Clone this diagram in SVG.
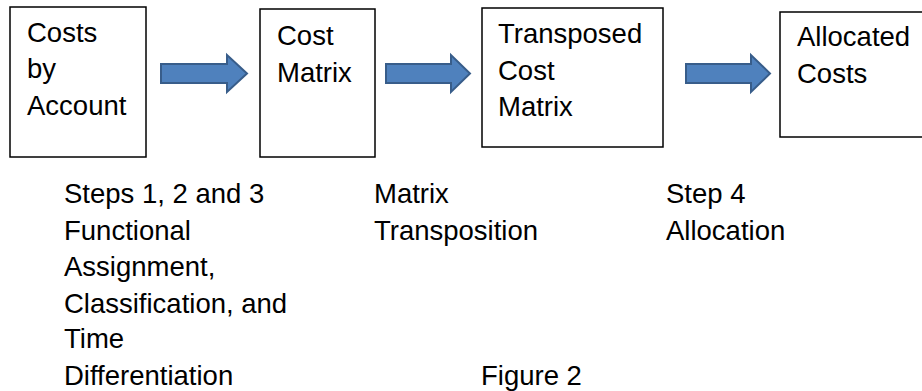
<svg xmlns="http://www.w3.org/2000/svg" width="922" height="391" viewBox="0 0 922 391">
  <style>
    .box { fill: #ffffff; stroke: #000000; stroke-width: 1.5; }
    .arrow { fill: #4f81bd; stroke: #385d8a; stroke-width: 2; stroke-linejoin: miter; }
    text { font-family: "Liberation Sans", Arial, sans-serif; font-size: 27.5px; fill: #000000; }
  </style>
  <rect width="922" height="391" fill="#ffffff"/>

  <g id="costs-by-account">
    <rect class="box" x="10" y="7" width="136" height="150"/>
    <text x="27" y="42">Costs</text>
    <text x="27" y="78">by</text>
    <text x="27" y="115">Account</text>
  </g>

  <g id="cost-matrix">
    <rect class="box" x="260" y="9" width="115" height="148"/>
    <text x="277" y="45">Cost</text>
    <text x="277" y="82">Matrix</text>
  </g>

  <g id="transposed-cost-matrix">
    <rect class="box" x="482" y="8" width="181" height="139"/>
    <text x="498" y="43">Transposed</text>
    <text x="498" y="80">Cost</text>
    <text x="498" y="116">Matrix</text>
  </g>

  <g id="allocated-costs">
    <rect class="box" x="780" y="12" width="160" height="125"/>
    <text x="797" y="46">Allocated</text>
    <text x="797" y="83">Costs</text>
  </g>

  <g id="connectors">
    <path class="arrow" d="M161,64 H227 V55 L247,73.5 L227,92 V83 H161 Z"/>
    <path class="arrow" d="M386,64 H451 V55 L470,73.5 L451,92 V83 H386 Z"/>
    <path class="arrow" d="M686,64 H751 V55 L770,73.5 L751,92 V83 H686 Z"/>
  </g>

  <g id="step-labels">
    <text x="64" y="203">Steps 1, 2 and 3</text>
    <text x="64" y="240">Functional</text>
    <text x="64" y="276">Assignment,</text>
    <text x="64" y="313">Classification, and</text>
    <text x="64" y="348">Time</text>
    <text x="64" y="385">Differentiation</text>
    <text x="374" y="203">Matrix</text>
    <text x="374" y="240">Transposition</text>
    <text x="666" y="203">Step 4</text>
    <text x="666" y="240">Allocation</text>
  </g>

  <text id="caption" x="481" y="385">Figure 2</text>
</svg>
